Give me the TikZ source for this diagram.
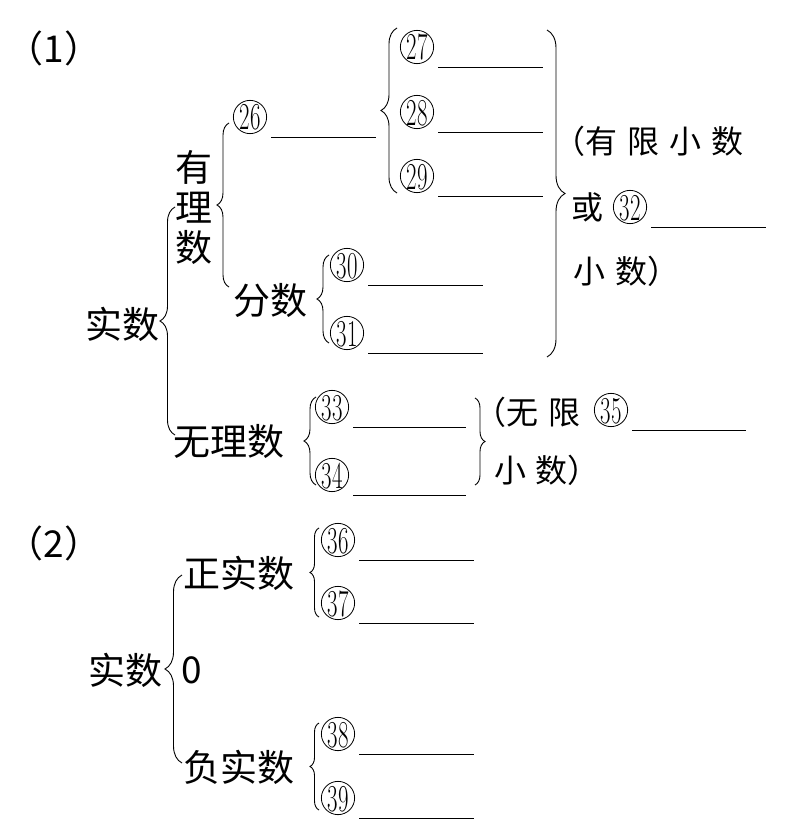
\documentclass[tikz,border=0pt]{standalone}
\usepackage{fontspec}
\newfontfamily\cjk{Noto Sans CJK SC}
\usetikzlibrary{decorations.pathreplacing,calc}
\tikzset{
  lbl/.style={font=\cjk\fontsize{37}{40}\selectfont, inner sep=0pt},
  note/.style={font=\cjk\fontsize{32}{34}\selectfont, inner sep=0pt, anchor=west},
  cnum/.style={circle, draw, line width=0.8pt, inner sep=0pt, minimum size=33pt,
               font=\fontsize{38}{38}\selectfont, text height=26pt, text depth=0pt},
  blank/.style={line width=0.9pt},
  brc/.style={decorate, decoration={brace, amplitude=#1}, line width=0.9pt},
}
\newcommand{\cn}[1]{\scalebox{0.6}[1]{#1}}

\begin{document}
\begin{tikzpicture}[x=1pt, y=-1pt]
  \useasboundingbox (0,0) rectangle (809,832);
  % (1)
  \node[lbl] (p1) at (54,48) {（1）};
  \node[lbl] (real1) at (122,324) {实数};
  \node[lbl, align=center] (rat) at (194,207) {有\\理\\数};
  \node[lbl] (frac) at (270,300) {分数};
  \node[lbl, anchor=west] (irr) at (173,441) {无理数};
  \draw[brc=15] (175,435) -- (175,207);
  \draw[brc=12] (229,287) -- (229,123);
  \draw[brc=16] (397,193) -- (397,28);
  \draw[brc=12] (329,343) -- (329,255);
  \draw[brc=18] (547,30) -- (547,357);
  \draw[brc=12] (316,485) -- (316,397);
  \draw[brc=10] (475,398) -- (475,485);
  \node[note] (fin1) at (553,141) {（有\hspace{10pt}限\hspace{10pt}小\hspace{10pt}数};
  \node[note] (or) at (571,207) {或};
  \node[note] (fin2) at (573,271) {小\hspace{10pt}数）};
  \node[note] (inf1) at (474,412) {（无\hspace{10pt}限};
  \node[note] (inf2) at (494,470) {小\hspace{9pt}数）};
  % (2)
  \node[lbl] (p2) at (54,543) {（2）};
  \node[lbl] (real2) at (125,670) {实数};
  \node[lbl] (zero) at (192,670) {0};
  \node[lbl, anchor=west] (pos) at (183,573) {正实数};
  \node[lbl, anchor=west] (neg) at (183,767) {负实数};
  \draw[brc=17] (182,763) -- (182,575);
  \draw[brc=9] (319,617) -- (319,528);
  \draw[brc=9] (319,810) -- (319,723);
  % circled numbers and blanks
  \foreach \n/\x/\y/\w in {26/250/117/105, 27/417/47/105, 28/417/112/105, 29/417/176/105,
      30/347/265/115, 31/347/333/115, 32/630/207/115, 33/332/407/113, 34/332/475/113,
      35/611/410/114, 36/338/540/115, 37/338/603/115, 38/338/734/115, 39/338/798/115}
    { \node[cnum] (c\n) at (\x,\y) {\cn{\n}};
      \draw[blank] ($(c\n.center)+(21,20)$) -- +(\w,0); }
\end{tikzpicture}
\end{document}
